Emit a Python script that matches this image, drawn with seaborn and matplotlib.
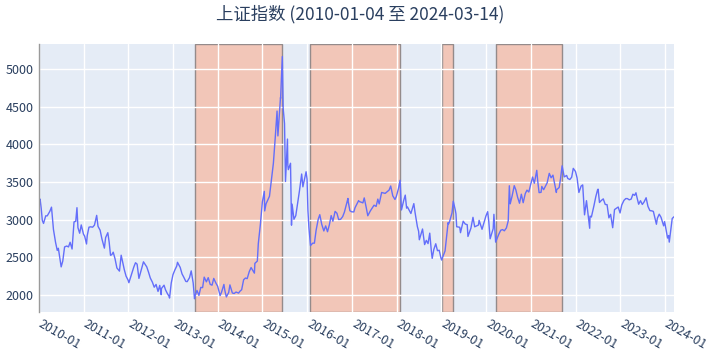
import pandas as pd
import numpy as np
import matplotlib
matplotlib.use("Agg")
import matplotlib.pyplot as plt
import matplotlib.transforms as mtransforms
import seaborn as sns

# closing values of the index
dates = [
    # 2010
    "2010-01-04", "2010-01-11", "2010-01-20", "2010-01-29", "2010-02-08", "2010-02-26",
    "2010-03-10", "2010-03-31", "2010-04-14", "2010-04-30", "2010-05-17", "2010-05-31",
    "2010-06-09", "2010-06-30", "2010-07-02", "2010-07-15", "2010-07-30", "2010-08-16",
    "2010-08-31", "2010-09-13", "2010-09-29", "2010-10-15", "2010-10-29", "2010-11-08",
    "2010-11-16", "2010-11-30", "2010-12-13", "2010-12-31",
    # 2011
    "2011-01-10", "2011-01-25", "2011-01-31", "2011-02-14", "2011-02-28", "2011-03-16",
    "2011-03-31", "2011-04-18", "2011-04-29", "2011-05-16", "2011-05-31", "2011-06-20",
    "2011-06-30", "2011-07-18", "2011-07-29", "2011-08-09", "2011-08-19", "2011-08-31",
    "2011-09-15", "2011-09-30", "2011-10-21", "2011-11-04", "2011-11-30", "2011-12-14",
    "2011-12-30",
    # 2012
    "2012-01-06", "2012-01-31", "2012-02-15", "2012-02-29", "2012-03-13", "2012-03-28",
    "2012-04-27", "2012-05-04", "2012-05-31", "2012-06-15", "2012-06-29", "2012-07-16",
    "2012-07-31", "2012-08-15", "2012-08-31", "2012-09-14", "2012-09-26", "2012-09-28",
    "2012-10-19", "2012-10-31", "2012-11-15", "2012-11-30", "2012-12-03", "2012-12-17",
    "2012-12-31",
    # 2013
    "2013-01-15", "2013-01-31", "2013-02-06", "2013-02-28", "2013-03-15", "2013-03-29",
    "2013-04-15", "2013-04-26", "2013-05-15", "2013-05-29", "2013-06-14", "2013-06-25",
    "2013-06-28", "2013-07-15", "2013-07-31", "2013-08-15", "2013-08-30", "2013-09-12",
    "2013-09-30", "2013-10-15", "2013-10-31", "2013-11-15", "2013-11-29", "2013-12-16",
    "2013-12-31",
    # 2014
    "2014-01-20", "2014-01-31", "2014-02-20", "2014-02-28", "2014-03-12", "2014-03-31",
    "2014-04-10", "2014-04-30", "2014-05-15", "2014-05-30", "2014-06-20", "2014-06-30",
    "2014-07-15", "2014-07-31", "2014-08-15", "2014-08-29", "2014-09-15", "2014-09-30",
    "2014-10-27", "2014-10-31", "2014-11-20", "2014-11-28", "2014-12-09", "2014-12-15",
    "2014-12-31",
    # 2015
    "2015-01-16", "2015-01-19", "2015-01-30", "2015-02-27", "2015-03-31", "2015-04-15",
    "2015-04-30", "2015-05-07", "2015-05-28", "2015-05-29", "2015-06-12", "2015-06-19",
    "2015-06-30", "2015-07-08", "2015-07-24", "2015-07-27", "2015-07-31", "2015-08-18",
    "2015-08-26", "2015-08-31", "2015-09-15", "2015-09-30", "2015-10-30", "2015-11-17",
    "2015-11-27", "2015-12-23", "2015-12-31",
    # 2016
    "2016-01-07", "2016-01-15", "2016-01-28", "2016-02-15", "2016-02-29", "2016-03-14",
    "2016-03-31", "2016-04-13", "2016-04-29", "2016-05-16", "2016-05-31", "2016-06-15",
    "2016-06-30", "2016-07-15", "2016-07-29", "2016-08-16", "2016-08-31", "2016-09-14",
    "2016-09-30", "2016-10-17", "2016-10-31", "2016-11-29", "2016-11-30", "2016-12-15",
    "2016-12-30",
    # 2017
    "2017-01-16", "2017-01-26", "2017-02-24", "2017-02-28", "2017-03-31", "2017-04-11",
    "2017-04-28", "2017-05-10", "2017-05-31", "2017-06-30", "2017-07-17", "2017-07-31",
    "2017-08-11", "2017-08-31", "2017-09-29", "2017-10-31", "2017-11-13", "2017-11-30",
    "2017-12-18", "2017-12-29",
    # 2018
    "2018-01-15", "2018-01-29", "2018-02-09", "2018-02-28", "2018-03-12", "2018-03-23",
    "2018-03-30", "2018-04-27", "2018-05-21", "2018-05-31", "2018-06-19", "2018-06-29",
    "2018-07-05", "2018-07-31", "2018-08-17", "2018-08-31", "2018-09-14", "2018-09-28",
    "2018-10-11", "2018-10-18", "2018-10-31", "2018-11-16", "2018-11-30", "2018-12-14",
    "2018-12-28",
    # 2019
    "2019-01-03", "2019-01-31", "2019-02-25", "2019-02-28", "2019-03-08", "2019-03-29",
    "2019-04-08", "2019-04-25", "2019-04-30", "2019-05-06", "2019-05-31", "2019-06-06",
    "2019-06-28", "2019-07-15", "2019-07-31", "2019-08-06", "2019-08-30", "2019-09-16",
    "2019-09-30", "2019-10-31", "2019-11-05", "2019-11-29", "2019-12-31",
    # 2020
    "2020-01-14", "2020-01-23", "2020-02-03", "2020-02-28", "2020-03-05", "2020-03-19",
    "2020-03-31", "2020-04-15", "2020-04-30", "2020-05-15", "2020-05-29", "2020-06-15",
    "2020-06-30", "2020-07-09", "2020-07-16", "2020-07-31", "2020-08-18", "2020-08-31",
    "2020-09-15", "2020-09-30", "2020-10-15", "2020-10-30", "2020-11-16", "2020-11-30",
    "2020-12-15", "2020-12-31",
    # 2021
    "2021-01-15", "2021-01-29", "2021-02-18", "2021-02-26", "2021-03-09", "2021-03-25",
    "2021-03-31", "2021-04-15", "2021-04-30", "2021-05-14", "2021-05-31", "2021-06-15",
    "2021-06-30", "2021-07-28", "2021-07-30", "2021-08-20", "2021-08-31", "2021-09-13",
    "2021-09-30", "2021-10-20", "2021-10-29", "2021-11-15", "2021-11-30", "2021-12-13",
    "2021-12-31",
    # 2022
    "2022-01-13", "2022-01-28", "2022-02-15", "2022-02-28", "2022-03-15", "2022-03-31",
    "2022-04-26", "2022-04-29", "2022-05-10", "2022-05-31", "2022-06-15", "2022-06-30",
    "2022-07-04", "2022-07-15", "2022-07-29", "2022-08-15", "2022-08-31", "2022-09-15",
    "2022-09-30", "2022-10-14", "2022-10-31", "2022-11-15", "2022-11-30", "2022-12-15",
    "2022-12-30",
    # 2023
    "2023-01-13", "2023-01-31", "2023-02-15", "2023-02-28", "2023-03-15", "2023-03-31",
    "2023-04-14", "2023-04-28", "2023-05-09", "2023-05-15", "2023-05-31", "2023-06-15",
    "2023-06-30", "2023-07-15", "2023-07-31", "2023-08-15", "2023-08-31", "2023-09-15",
    "2023-09-28", "2023-10-23", "2023-10-31", "2023-11-15", "2023-11-30", "2023-12-21",
    "2023-12-29",
    # 2024
    "2024-01-22", "2024-01-31", "2024-02-05", "2024-02-29", "2024-03-14",
]
closes = [
    # 2010
    3243, 3273, 3150, 2989, 2950, 3051,
    3050, 3109, 3166, 2870, 2700, 2592,
    2620, 2398, 2373, 2450, 2638, 2650,
    2638, 2700, 2610, 2970, 2978, 3159,
    2894, 2820, 2930, 2808,
    # 2011
    2780, 2677, 2790, 2900, 2905, 2900,
    2928, 3057, 2911, 2860, 2743, 2622,
    2762, 2827, 2701, 2527, 2534, 2568,
    2480, 2359, 2317, 2528, 2333, 2250,
    2199,
    # 2012
    2163, 2292, 2370, 2428, 2410, 2220,
    2396, 2440, 2373, 2300, 2225, 2170,
    2103, 2140, 2047, 2127, 2004, 2086,
    2130, 2069, 2020, 1980, 1959, 2160,
    2269,
    # 2013
    2330, 2385, 2434, 2366, 2280, 2237,
    2180, 2177, 2230, 2320, 2160, 1950,
    1979, 2060, 1994, 2100, 2098, 2237,
    2175, 2230, 2141, 2130, 2220, 2160,
    2116,
    # 2014
    1992, 2033, 2140, 2056, 1974, 2033,
    2134, 2026, 2020, 2039, 2025, 2048,
    2070, 2202, 2225, 2217, 2310, 2364,
    2290, 2420, 2450, 2683, 2856, 2940,
    3235,
    # 2015
    3376, 3116, 3210, 3310, 3748, 4084,
    4442, 4112, 4620, 4612, 5166, 4478,
    4277, 3507, 4070, 3725, 3664, 3749,
    2927, 3206, 3005, 3053, 3383, 3606,
    3436, 3636, 3539,
    # 2016
    3125, 2900, 2656, 2688, 2688, 2860,
    3004, 3066, 2938, 2850, 2917, 2840,
    2930, 3054, 2979, 3110, 3085, 3002,
    3005, 3041, 3100, 3282, 3250, 3118,
    3104,
    # 2017
    3103, 3159, 3253, 3242, 3223, 3289,
    3155, 3052, 3117, 3192, 3176, 3273,
    3209, 3361, 3349, 3393, 3447, 3317,
    3268, 3307,
    # 2018
    3410, 3523, 3129, 3259, 3326, 3153,
    3169, 3082, 3213, 3095, 2907, 2847,
    2733, 2876, 2669, 2725, 2682, 2821,
    2583, 2486, 2603, 2680, 2588, 2594,
    2494,
    # 2019
    2464, 2585, 2961, 2941, 2970, 3091,
    3245, 3124, 3078, 2906, 2899, 2827,
    2979, 2942, 2933, 2777, 2886, 3031,
    2905, 2929, 2991, 2872, 3050,
    # 2020
    3106, 2977, 2746, 2880, 3071, 2702,
    2750, 2811, 2860, 2868, 2852, 2890,
    2985, 3450, 3210, 3310, 3451, 3396,
    3295, 3218, 3338, 3225, 3346, 3392,
    3367, 3473,
    # 2021
    3566, 3483, 3655, 3509, 3359, 3363,
    3441, 3398, 3447, 3490, 3615, 3556,
    3591, 3361, 3397, 3427, 3544, 3715,
    3568, 3587, 3547, 3533, 3564, 3681,
    3640,
    # 2022
    3555, 3361, 3446, 3462, 3064, 3252,
    2886, 3047, 3035, 3186, 3305, 3399,
    3405, 3228, 3253, 3276, 3202, 3199,
    3024, 3071, 2893, 3134, 3151, 3168,
    3089,
    # 2023
    3195, 3256, 3280, 3280, 3263, 3273,
    3338, 3323, 3357, 3311, 3205, 3252,
    3202, 3237, 3291, 3176, 3120, 3117,
    3110, 2939, 3019, 3073, 3030, 2918,
    2975,
    # 2024
    2756, 2789, 2702, 3015, 3038,
]

# shaded periods (low -> high)
span_starts = ["2013-06-25", "2016-01-28", "2019-01-03", "2020-03-19"]
span_ends = ["2015-06-12", "2018-01-29", "2019-04-08", "2021-09-13"]

title = "上证指数 (2010-01-04 至 2024-03-14)"
y_ticks = [2000, 2500, 3000, 3500, 4000, 4500, 5000]
x_ticks = [f"{y}-01-01" for y in range(2010, 2025)]


def main():
    df = pd.DataFrame({"date": pd.to_datetime(dates), "close": closes})

    sns.set_theme(style="whitegrid")
    plt.rcParams["font.family"] = ["Noto Sans CJK SC", "DejaVu Sans"]

    fig = plt.figure(figsize=(7.2, 3.58), dpi=100)
    ax = fig.add_axes([0.054, 0.1285, 0.882, 0.7485])
    ax.set_facecolor("#E5ECF6")
    # grid sits above the shaded spans, line above both
    ax.set_axisbelow("line")

    for s, e in zip(span_starts, span_ends):
        ax.axvspan(pd.Timestamp(s), pd.Timestamp(e), ymin=0, ymax=1,
                   facecolor="#F2C6B8", edgecolor="#948b8b",
                   linewidth=1.0, zorder=1)

    sns.lineplot(data=df, x="date", y="close", ax=ax, color="#636EFA",
                 linewidth=1.0, zorder=3)

    ax.set_xlim(pd.Timestamp("2010-01-01"), pd.Timestamp(dates[-1]))
    ax.set_ylim(1774, 5332)
    ax.set_yticks(y_ticks)
    ax.set_xticks(pd.to_datetime(x_ticks))
    ax.set_xticklabels([t[:7] for t in x_ticks])

    ax.grid(True, color="white", linewidth=1.0)
    for side in ["top", "right", "bottom"]:
        ax.spines[side].set_visible(False)
    ax.spines["left"].set_color("#9a9a9a")
    ax.spines["left"].set_linewidth(1.0)
    ax.spines["left"].set_zorder(4)

    ax.set_xlabel("")
    ax.set_ylabel("")
    ax.tick_params(axis="both", length=0, labelsize=9, colors="#2a3f5f")
    ax.tick_params(axis="y", pad=4)
    ax.tick_params(axis="x", pad=4)
    shift = mtransforms.ScaledTranslation(4 / 100, 0, fig.dpi_scale_trans)
    for lbl in ax.get_xticklabels():
        lbl.set_rotation(-30)
        lbl.set_ha("left")
        lbl.set_va("top")
        lbl.set_rotation_mode("anchor")
        lbl.set_transform(lbl.get_transform() + shift)

    fig.suptitle(title, x=0.5, y=0.985, fontsize=12.5, color="#2a3f5f")
    fig.savefig("out.png", dpi=100, facecolor="white")


if __name__ == "__main__":
    main()
